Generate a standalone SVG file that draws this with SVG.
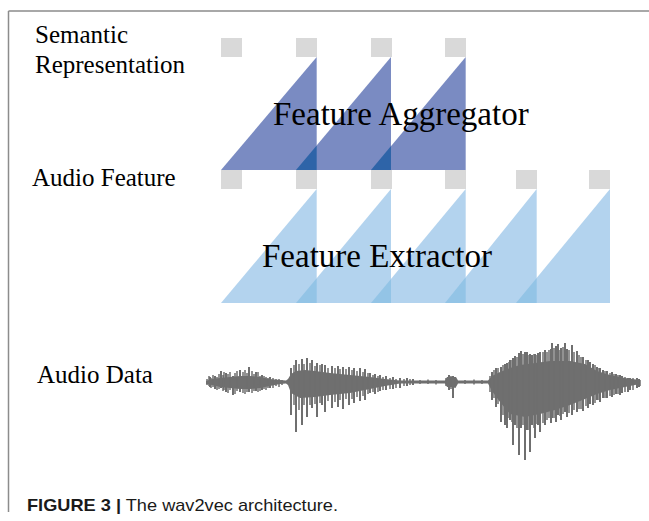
<svg xmlns="http://www.w3.org/2000/svg" width="649" height="521" viewBox="0 0 649 521">
<style>
.lbl{font-family:"Liberation Serif","Times New Roman",serif;font-size:25px;fill:#000}
.big{font-family:"Liberation Serif","Times New Roman",serif;font-size:33px;fill:#000}
.sq{fill:#d9d9d9}
.agg{fill:#7a8bc2}
.aggd{fill:#2e64a8}
.ext{fill:#b3d3ee}
.extd{fill:#93c4e6}
.cap{font-family:"Liberation Sans",Arial,sans-serif;font-size:17px;fill:#1a1a1a}
</style>
<g id="frame" fill="none" stroke="#8c8c8c" stroke-width="1.5">
<path d="M8.5 11 H649 M8.5 11 V512"/>
</g>
<g id="semantic-representation">
<rect class="sq" x="221" y="38" width="21" height="19"/>
<rect class="sq" x="296" y="38" width="21" height="19"/>
<rect class="sq" x="371" y="38" width="21" height="19"/>
<rect class="sq" x="445" y="38" width="21" height="19"/>
</g>
<g id="feature-aggregator">
<polygon class="agg" points="221,170 316.7,57 316.7,170"/>
<polygon class="agg" points="296,170 391,57 391,170"/>
<polygon class="agg" points="371,170 465.7,57 465.7,170"/>
<polygon class="aggd" points="296,170 316.7,145.4 316.7,170"/>
<polygon class="aggd" points="371,170 391,146.1 391,170"/>
<text class="big" x="273" y="125">Feature Aggregator</text>
</g>
<g id="audio-feature">
<rect class="sq" x="221" y="170" width="21" height="19"/>
<rect class="sq" x="296" y="170" width="21" height="19"/>
<rect class="sq" x="371" y="170" width="21" height="19"/>
<rect class="sq" x="445" y="170" width="21" height="19"/>
<rect class="sq" x="516" y="170" width="21" height="19"/>
<rect class="sq" x="589" y="170" width="21" height="19"/>
</g>
<g id="feature-extractor">
<polygon class="ext" points="221,303 316.7,189 316.7,303"/>
<polygon class="ext" points="296,303 391,189 391,303"/>
<polygon class="ext" points="371,303 465.7,189 465.7,303"/>
<polygon class="ext" points="445,303 536.7,189 536.7,303"/>
<polygon class="ext" points="516,303 610,189 610,303"/>
<polygon class="extd" points="296,303 316.7,278.2 316.7,303"/>
<polygon class="extd" points="371,303 391,278.9 391,303"/>
<polygon class="extd" points="445,303 465.7,277.3 465.7,303"/>
<polygon class="extd" points="516,303 536.7,277.9 536.7,303"/>
<text class="big" x="262" y="267">Feature Extractor</text>
</g>
<g id="audio-data" fill="#6f6f6f" stroke="#6f6f6f">
<path stroke="none" d="M206,381 L212,379 L220,378 L230,377 L240,376 L250,376 L260,377 L270,379 L280,380 L286,380.5 L288,379 L291,374 L296,371 L305,370 L315,371 L330,373 L350,375 L370,377 L385,379 L400,380.5 L445,380.5 L447,377 L456,377 L458,380.5 L488,380.5 L492,376 L500,372 L510,368 L520,365 L535,363 L550,361 L570,361 L585,364 L597,371 L610,375 L625,378 L640,380 L640,384 L625,387 L610,390 L597,394 L585,399 L570,405 L555,410 L540,414 L525,417 L510,414 L500,402 L492,391 L488,383.5 L458,383.5 L456,387 L447,387 L445,383.5 L400,383.5 L385,386 L370,389 L350,393 L330,395 L315,397 L300,398 L291,393 L288,385 L286,383.5 L280,384 L270,386 L260,388 L250,389 L240,389 L230,388 L220,387 L212,385 L206,384 Z"/>
<path fill="none" stroke-width="2" d="M210 377V387 M215 376V389 M221 371V388 M226 373V392 M233 376V395 M240 370V392 M249 367V392 M256 372V391 M262 375V390 M270 377V388
M291 368V415 M296 360V432 M302 359V425 M307 358V417 M312 360V408 M317 363V417 M322 364V405 M325 365V412 M332 366V408 M338 366V407 M343 367V409 M349 367V405 M354 368V403 M360 368V401 M365 369V400 M370 373V393 M375 374V394 M380 375V391 M386 376V390 M393 377V389 M400 378V388 M407 378V386 M413 379V385
M449 375V390 M453 376V398
M492 372V400 M496 368V407 M501 367V422 M505 364V425 M507 363V428 M510 360V420 M513 358V445 M515 356V425 M519 353V455 M521 351V428 M525 352V460 M527 352V430 M530 354V452 M532 355V425 M535 354V438 M538 353V425 M540 352V432 M545 350V425 M551 349V423 M552 343V418 M556 346V422 M558 344V415 M561 348V420 M565 343V412 M567 349V417 M572 345V415 M577 351V412 M583 357V411 M588 360V408 M590 362V404 M593 364V405 M597 367V400 M600 368V402 M603 370V398 M607 371V398 M612 372V397 M616 374V394 M620 375V395 M622 376V393 M628 378V392 M630 378V390 M637 378V388 M639 379V387"/>
<path fill="none" stroke-width="1.5" d="M207 379V385 M209 376V386 M211 378V388 M213 375V387 M217 377V390 M219 374V389 M223 375V391 M224 372V390 M228 374V393 M230 372V390 M235 373V394 M237 371V391 M243 372V393 M245 370V394 M247 373V392 M252 371V393 M254 374V391 M258 372V392 M260 376V391 M264 376V389 M266 377V390 M268 378V388 M273 378V388 M276 379V386 M279 379V387 M282 380V385
M294 365V405 M299 364V410 M304 364V405 M310 363V405 M315 366V404 M320 365V403 M328 368V401 M335 368V402 M340 369V400 M346 369V399 M352 370V399 M357 371V397 M363 372V396 M368 373V394 M373 375V392 M378 376V392 M383 377V390 M390 378V389 M396 379V388 M404 379V386 M410 379V385 M420 380V384 M428 379.5V384 M436 380V384.5 M446 378V386 M451 376V389 M455 377V388 M465 380V384 M474 379.5V384.5 M482 380V384
M490 376V392 M494 370V398 M498 368V404 M503 365V415 M509 362V418 M512 360V422 M517 357V428 M523 354V425 M529 355V430 M534 354V428 M537 355V424 M543 352V423 M547 352V420 M549 350V418 M554 348V418 M560 350V416 M563 347V414 M569 350V413 M574 352V410 M579 355V409 M581 357V409 M586 360V406 M595 365V403 M599 368V400 M605 371V398 M610 373V396 M614 374V395 M618 375V394 M625 377V392 M633 378V390 M640 380V386"/>
</g>
<g id="labels">
<text class="lbl" x="35" y="43">Semantic</text>
<text class="lbl" x="35" y="73">Representation</text>
<text class="lbl" x="32" y="186">Audio Feature</text>
<text class="lbl" x="37" y="383">Audio Data</text>
</g>
<g id="caption">
<text class="cap" x="27" y="511" textLength="311" lengthAdjust="spacingAndGlyphs"><tspan font-weight="bold">FIGURE 3 |</tspan> The wav2vec architecture.</text>
</g>
</svg>
